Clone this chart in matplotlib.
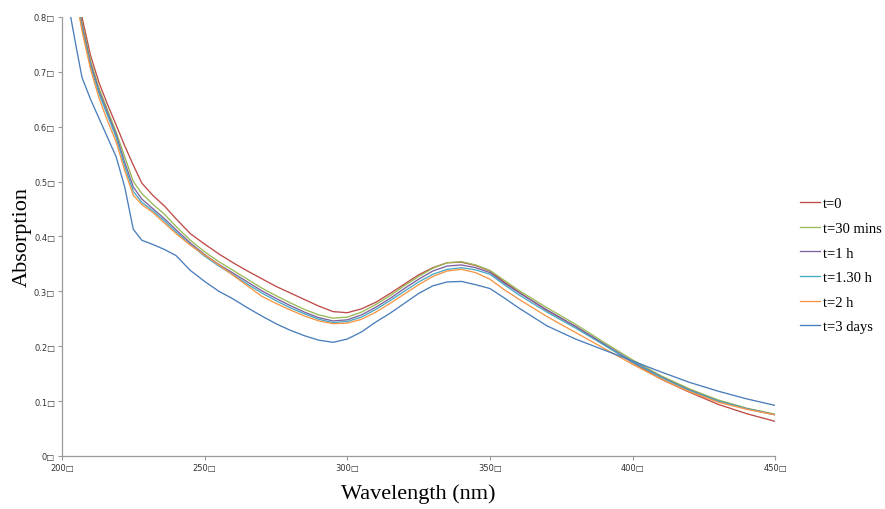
import matplotlib
matplotlib.use('Agg')
import matplotlib.pyplot as plt

# wavelength grid (nm) the curves were read at
wl = [202, 205, 207, 210, 213, 216, 219, 222, 225, 228, 232, 236, 240, 245, 250, 255, 260, 265, 270, 275,
      280, 285, 290, 295, 300, 305, 310, 315, 320, 325, 330, 335, 340, 345, 350, 355, 360, 370, 380, 390,
      400, 410, 420, 430, 440, 450]

t0 = [0.96, 0.86, 0.80, 0.73, 0.68, 0.64, 0.603, 0.565, 0.53, 0.497, 0.474, 0.455, 0.432, 0.405, 0.386, 0.368, 0.352, 0.337, 0.323, 0.309,
      0.297, 0.285, 0.273, 0.263, 0.261, 0.268, 0.28, 0.296, 0.313, 0.33, 0.343, 0.352, 0.353, 0.347, 0.337, 0.317, 0.299, 0.265, 0.236, 0.203,
      0.170, 0.140, 0.116, 0.094, 0.077, 0.063]
t30m = [0.95, 0.85, 0.79, 0.72, 0.67, 0.63, 0.59, 0.545, 0.50, 0.478, 0.458, 0.44, 0.418, 0.393, 0.372, 0.354, 0.338, 0.322, 0.306, 0.292,
        0.279, 0.267, 0.257, 0.251, 0.253, 0.262, 0.276, 0.292, 0.31, 0.327, 0.342, 0.352, 0.354, 0.348, 0.338, 0.32, 0.302, 0.27, 0.24, 0.207,
        0.175, 0.146, 0.122, 0.102, 0.087, 0.076]
t1h = [0.945, 0.845, 0.785, 0.715, 0.665, 0.625, 0.585, 0.535, 0.49, 0.468, 0.45, 0.432, 0.412, 0.388, 0.367, 0.349, 0.333, 0.317, 0.301, 0.287,
       0.274, 0.262, 0.252, 0.246, 0.248, 0.257, 0.271, 0.287, 0.305, 0.322, 0.337, 0.346, 0.348, 0.343, 0.334, 0.315, 0.298, 0.266, 0.236, 0.204,
       0.172, 0.144, 0.12, 0.10, 0.086, 0.075]
t130h = [0.94, 0.84, 0.78, 0.71, 0.66, 0.62, 0.58, 0.528, 0.482, 0.462, 0.446, 0.428, 0.408, 0.385, 0.364, 0.346, 0.33, 0.313, 0.297, 0.283,
         0.27, 0.259, 0.249, 0.243, 0.245, 0.253, 0.267, 0.283, 0.30, 0.317, 0.331, 0.34, 0.343, 0.339, 0.331, 0.312, 0.294, 0.262, 0.233, 0.202,
         0.171, 0.143, 0.119, 0.10, 0.086, 0.075]
t2h = [0.935, 0.835, 0.775, 0.705, 0.652, 0.61, 0.572, 0.52, 0.475, 0.458, 0.443, 0.424, 0.405, 0.384, 0.366, 0.348, 0.329, 0.31, 0.291, 0.278,
       0.266, 0.255, 0.246, 0.241, 0.242, 0.249, 0.262, 0.278, 0.295, 0.312, 0.327, 0.337, 0.34, 0.334, 0.322, 0.303, 0.286, 0.254, 0.225, 0.196,
       0.167, 0.140, 0.117, 0.098, 0.085, 0.075]
t3d = [0.83, 0.745, 0.69, 0.65, 0.615, 0.58, 0.545, 0.49, 0.413, 0.393, 0.385, 0.376, 0.365, 0.338, 0.318, 0.30, 0.286, 0.27, 0.255, 0.241,
       0.229, 0.219, 0.211, 0.207, 0.213, 0.226, 0.244, 0.26, 0.278, 0.296, 0.31, 0.317, 0.318, 0.312, 0.305, 0.288, 0.27, 0.237, 0.213, 0.193,
       0.173, 0.153, 0.134, 0.118, 0.104, 0.092]

labels = ['t=0', 't=30 mins', 't=1 h', 't=1.30 h', 't=2 h', 't=3 days']
colors = ['#BE4B48', '#98B954', '#7D60A0', '#46AAC5', '#F79646', '#4A7EBB']
xticks = [200, 250, 300, 350, 400, 450]
yticks = [0, 0.1, 0.2, 0.3, 0.4, 0.5, 0.6, 0.7, 0.8]

fig = plt.figure(figsize=(8.85, 5.10), dpi=100)
ax = fig.add_axes([0.070, 0.104, 0.806, 0.861])

for ys, lbl, col in zip([t0, t30m, t1h, t130h, t2h, t3d], labels, colors):
	ax.plot(wl, ys, color=col, lw=0.95, label=lbl)

ax.set_xlim(200, 450)
ax.set_ylim(0, 0.8)
ax.set_xticks(xticks)
ax.set_xticklabels([str(v) + '\u25a1' for v in xticks])
ax.set_yticks(yticks)
ax.set_yticklabels([('%g' % v) + '\u25a1' for v in yticks])
ax.tick_params(labelsize=6, colors='#9a9a9a', labelcolor='#333333', length=3, width=0.8, pad=2)

for s in ('top', 'right'):
	ax.spines[s].set_visible(False)
for s in ('left', 'bottom'):
	ax.spines[s].set_color('#9a9a9a')
	ax.spines[s].set_linewidth(0.9)

ax.set_xlabel('Wavelength (nm)', family='Liberation Serif', fontsize=16, labelpad=8)
ax.set_ylabel('Absorption', family='Liberation Serif', fontsize=16)
ax.yaxis.set_label_coords(-0.042, 0.5)

fig.legend(loc='center left', bbox_to_anchor=(0.904, 0.478), frameon=False,
	prop={'family': 'Liberation Serif', 'size': 10.5}, handlelength=1.4, handletextpad=0.15,
	labelspacing=0.78, borderpad=0, borderaxespad=0)

fig.savefig('out.png', dpi=100)
